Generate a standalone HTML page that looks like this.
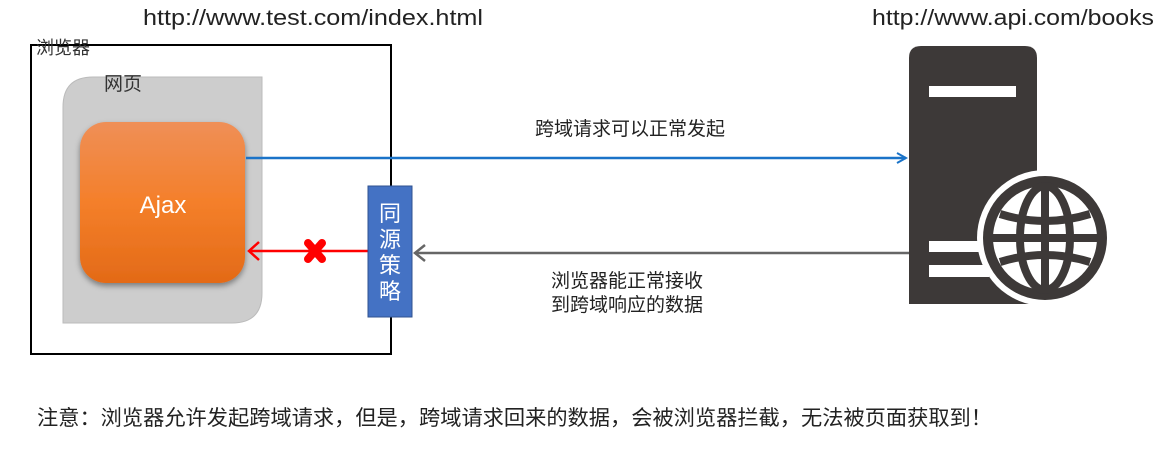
<!DOCTYPE html>
<html><head><meta charset="utf-8"><style>
html,body{margin:0;padding:0;background:#fff;width:1161px;height:450px;overflow:hidden}
svg text{font-family:"Liberation Sans","Noto Sans CJK SC",sans-serif}
</style></head><body>
<svg width="1161" height="450" viewBox="0 0 1161 450" xmlns="http://www.w3.org/2000/svg">
<defs>
<linearGradient id="og" x1="0" y1="0" x2="0" y2="1">
<stop offset="0" stop-color="#ef8f57"/><stop offset="0.5" stop-color="#f47f2a"/><stop offset="1" stop-color="#e36a17"/>
</linearGradient>
<filter id="sh" x="-20%" y="-20%" width="140%" height="140%"><feDropShadow dx="0" dy="3" stdDeviation="3" flood-color="#000" flood-opacity="0.4"/></filter>
<marker id="ab" markerWidth="12" markerHeight="12" refX="10" refY="6" orient="auto" markerUnits="userSpaceOnUse"><path d="M1,1 L10,6 L1,11" fill="none" stroke="#1a73c8" stroke-width="2"/></marker>
</defs>
<text x="143" y="25" font-size="22" fill="#222" textLength="340" lengthAdjust="spacingAndGlyphs">http://www.test.com/index.html</text>
<text x="872" y="25" font-size="22" fill="#222" textLength="282" lengthAdjust="spacingAndGlyphs">http://www.api.com/books</text>
<rect x="31" y="45" width="360" height="309" fill="none" stroke="#000" stroke-width="2"/>
<text x="36" y="54" font-size="18" fill="#333">浏览器</text>
<path d="M93,77 H262 V293 Q262,323 232,323 H63 V107 Q63,77 93,77 Z" fill="#cdcdcd" stroke="#bbb"/>
<text x="104" y="90" font-size="19" fill="#333">网页</text>
<rect x="80" y="122" width="165" height="161" rx="26" fill="url(#og)" filter="url(#sh)"/>
<text x="163" y="213" font-size="24" fill="#fff" text-anchor="middle">Ajax</text>
<line x1="246" y1="158" x2="906" y2="158" stroke="#1a73c8" stroke-width="2.5" marker-end="url(#ab)"/>
<text x="630" y="135" font-size="19" fill="#222" text-anchor="middle">跨域请求可以正常发起</text>
<line x1="368" y1="251" x2="250" y2="251" stroke="#f00" stroke-width="2.5"/>
<path d="M259,242 L249,251 L259,260" fill="none" stroke="#f00" stroke-width="2.5"/>
<g stroke="#f00" stroke-width="8" stroke-linecap="round"><line x1="308" y1="243" x2="322" y2="259"/><line x1="322" y1="243" x2="308" y2="259"/></g>
<line x1="909" y1="253" x2="415" y2="253" stroke="#666" stroke-width="2.5"/>
<path d="M425,245 L415,253 L425,261" fill="none" stroke="#666" stroke-width="2.5"/>
<rect x="368" y="186" width="44" height="131" fill="#4472c4" stroke="#2f528f"/>
<g font-size="22" fill="#fff" text-anchor="middle"><text x="390" y="221">同</text><text x="390" y="247">源</text><text x="390" y="273">策</text><text x="390" y="299">略</text></g>
<text x="627" y="287" font-size="19" fill="#222" text-anchor="middle">浏览器能正常接收</text>
<text x="627" y="311" font-size="19" fill="#222" text-anchor="middle">到跨域响应的数据</text>
<path d="M909,304 V58 Q909,46 921,46 H1025 Q1037,46 1037,58 V304 Z" fill="#3d3938"/>
<rect x="929" y="86" width="87" height="11" fill="#fff"/>
<rect x="929" y="241" width="60" height="11" fill="#fff"/>
<rect x="929" y="265" width="60" height="12" fill="#fff"/>
<circle cx="1045" cy="238" r="68" fill="#fff"/>
<circle cx="1045" cy="238" r="62" fill="#3d3938"/>
<circle cx="1045" cy="238" r="52" fill="#fff"/>
<g fill="none" stroke="#3d3938" stroke-width="8">
<ellipse cx="1045" cy="238" rx="25" ry="52"/>
<line x1="1045" y1="186" x2="1045" y2="290"/>
<line x1="993" y1="238" x2="1097" y2="238"/>
<path d="M1000,214 Q1045,228 1090,214"/>
<path d="M1000,262 Q1045,248 1090,262"/>
</g>
<text x="37" y="425" font-size="21" fill="#222" textLength="955" lengthAdjust="spacingAndGlyphs">注意：浏览器允许发起跨域请求，但是，跨域请求回来的数据，会被浏览器拦截，无法被页面获取到！</text>
</svg>
</body></html>
